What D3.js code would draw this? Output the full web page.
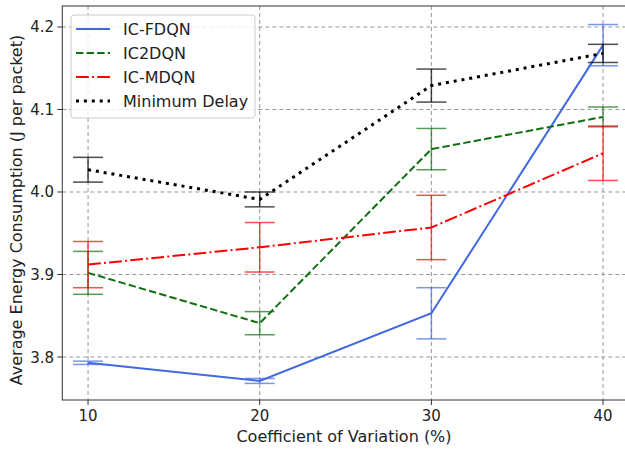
<!DOCTYPE html>
<html>
<head>
<meta charset="utf-8">
<script src="https://cdn.jsdelivr.net/npm/d3@7"></script>
<style>
  body { margin: 0; background: #fff; }
  text { font-family: "DejaVu Sans", sans-serif; fill: #222; }
</style>
</head>
<body>
<script>
// Data
var cv = [10, 20, 30, 40];
var fdqn = [3.793, 3.771, 3.853, 4.178];
var fdqnErr = [0.002, 0.003, 0.031, 0.025];
var ic2dqn = [3.902, 3.841, 4.052, 4.091];
var ic2dqnErr = [0.026, 0.014, 0.025, 0.012];
var mdqn = [3.912, 3.933, 3.957, 4.047];
var mdqnErr = [0.028, 0.030, 0.039, 0.033];
var minDelay = [4.027, 3.991, 4.129, 4.168];
var minDelayErr = [0.015, 0.009, 0.020, 0.011];
var yTicks = [3.8, 3.9, 4.0, 4.1, 4.2];

var W = 625, H = 449;

var svg = d3.select("body").append("svg")
  .attr("width", W).attr("height", H);

var x = d3.scaleLinear().domain([8.5, 41.5]).range([62.3, 628.8]);
var y = d3.scaleLinear().domain([3.74788, 4.22545]).range([400, 6]);

var series = [
  {name: "IC-FDQN", v: fdqn, e: fdqnErr, color: "#4169e1", width: 2, dash: null},
  {name: "IC2DQN", v: ic2dqn, e: ic2dqnErr, color: "#107010", width: 2, dash: "7.4,3.2"},
  {name: "IC-MDQN", v: mdqn, e: mdqnErr, color: "#ff0000", width: 2, dash: "12.8,3.2,2,3.2"},
  {name: "Minimum Delay", v: minDelay, e: minDelayErr, color: "#000000", width: 3, dash: "3,4.9"}
];

//grid
var grid = svg.append("g");
grid.selectAll("line.gx").data(cv).enter().append("line")
  .attr("x1", d => x(d)).attr("x2", d => x(d))
  .attr("y1", y.range()[1]).attr("y2", y.range()[0])
  .attr("stroke", "#999").attr("stroke-width", 1).attr("stroke-dasharray", "4,3");
grid.selectAll("line.gy").data(yTicks).enter().append("line")
  .attr("y1", d => y(d)).attr("y2", d => y(d))
  .attr("x1", x.range()[0]).attr("x2", x.range()[1])
  .attr("stroke", "#999").attr("stroke-width", 1).attr("stroke-dasharray", "4,3");

//error bars + lines
var line = d3.line().x(d => x(d.x)).y(d => y(d.y));

series.forEach(function(s){
  var pts = cv.map((c, i) => ({x: c, y: s.v[i], e: s.e[i]}));
  var g = svg.append("g");
  var eb = g.selectAll("g.eb").data(pts).enter().append("g")
    .attr("stroke", s.color).attr("stroke-opacity", 0.7).attr("stroke-width", 1.5);
  eb.append("line")
    .attr("x1", d => x(d.x)).attr("x2", d => x(d.x))
    .attr("y1", d => y(d.y - d.e)).attr("y2", d => y(d.y + d.e));
  eb.append("line")
    .attr("x1", d => x(d.x) - 15).attr("x2", d => x(d.x) + 15)
    .attr("y1", d => y(d.y + d.e)).attr("y2", d => y(d.y + d.e));
  eb.append("line")
    .attr("x1", d => x(d.x) - 15).attr("x2", d => x(d.x) + 15)
    .attr("y1", d => y(d.y - d.e)).attr("y2", d => y(d.y - d.e));
  g.append("path").datum(pts)
    .attr("d", line)
    .attr("fill", "none")
    .attr("stroke", s.color)
    .attr("stroke-width", s.width)
    .attr("stroke-dasharray", s.dash);
});

//axes frame
var x0 = x.range()[0], x1 = x.range()[1], yb = y.range()[0], yt = y.range()[1];
svg.append("rect")
  .attr("x", x0).attr("y", yt).attr("width", x1 - x0).attr("height", yb - yt)
  .attr("fill", "none").attr("stroke", "#333").attr("stroke-width", 1);

// ticks
svg.selectAll("line.xt").data(cv).enter().append("line")
  .attr("x1", d => x(d)).attr("x2", d => x(d))
  .attr("y1", yb).attr("y2", yb + 5).attr("stroke", "#333");
svg.selectAll("text.xt").data(cv).enter().append("text")
  .attr("x", d => x(d)).attr("y", 421)
  .attr("text-anchor", "middle").attr("font-size", 15)
  .text(d => d);
svg.selectAll("line.yt").data(yTicks).enter().append("line")
  .attr("x1", x0 - 5).attr("x2", x0)
  .attr("y1", d => y(d)).attr("y2", d => y(d)).attr("stroke", "#333");
svg.selectAll("text.yt").data(yTicks).enter().append("text")
  .attr("x", 54).attr("y", d => y(d) + 5.5)
  .attr("text-anchor", "end").attr("font-size", 15)
  .text(d => d.toFixed(1));

svg.append("text")
  .attr("x", 344).attr("y", 442)
  .attr("text-anchor", "middle").attr("font-size", 16)
  .text("Coefficient of Variation (%)");
svg.append("text")
  .attr("transform", "translate(22,210) rotate(-90)")
  .attr("text-anchor", "middle").attr("font-size", 16)
  .text("Average Energy Consumption (J per packet)");

//legend
var leg = svg.append("g").attr("transform", "translate(71,15)");
leg.append("rect")
  .attr("width", 184).attr("height", 103).attr("rx", 3)
  .attr("fill", "#fff").attr("fill-opacity", 0.8)
  .attr("stroke", "#ccc");
var item = leg.selectAll("g.item").data(series).enter().append("g")
  .attr("transform", (d, i) => "translate(0," + (14 + i * 24) + ")");
item.append("line")
  .attr("x1", 5).attr("x2", 39)
  .attr("stroke", d => d.color)
  .attr("stroke-width", d => d.width)
  .attr("stroke-dasharray", d => d.dash);
item.append("text")
  .attr("x", 52).attr("y", 6)
  .attr("font-size", 16)
  .text(d => d.name);
</script>
</body>
</html>
